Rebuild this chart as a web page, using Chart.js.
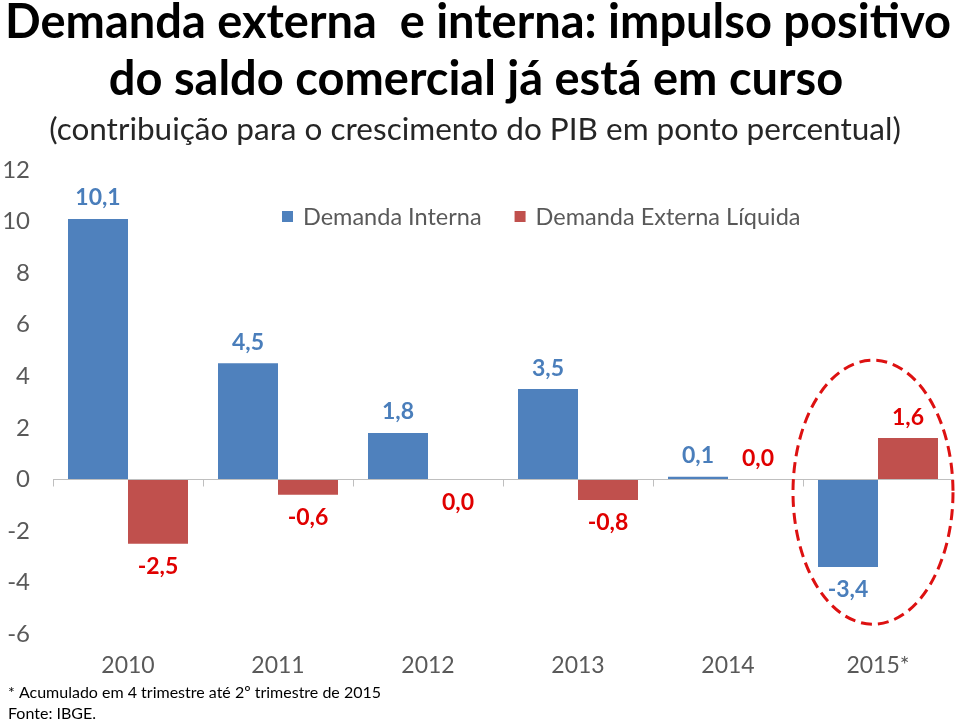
<!DOCTYPE html>
<html>
<head>
<meta charset="utf-8">
<script src="https://cdn.jsdelivr.net/npm/chart.js@4.4.0/dist/chart.umd.min.js"></script>
<style>
  html, body { margin: 0; padding: 0; background: #fff; }
  #wrap { width: 959px; height: 722px; }
</style>
</head>
<body>
<div id="wrap"><canvas id="chart" width="959" height="722"></canvas></div>
<script>
// ---- data ----
const YEARS = ['2010', '2011', '2012', '2013', '2014', '2015*'];
const DEMANDA_INTERNA = [10.1, 4.5, 1.8, 3.5, 0.1, -3.4];
const DEMANDA_EXTERNA = [-2.5, -0.6, 0.0, -0.8, 0.0, 1.6];
const Y_MIN = -6, Y_MAX = 12, Y_STEP = 2;

const TITLE = ['Demanda externa  e interna: impulso positivo', 'do saldo comercial já está em curso'];
const SUBTITLE = '(contribuição para o crescimento do PIB em ponto percentual)';
const NOTES = ['* Acumulado em 4 trimestre até 2º trimestre de 2015', 'Fonte: IBGE.'];

const BLUE = '#4f81bd', RED = '#c0504d';
const BLUE_TXT = '#4a7ebb', RED_TXT = '#e00000';
const GRAY = '#595959';
const FONT = 'Lato, "Open Sans", sans-serif';

// zero-valued labels: which categories put the label below the axis
const ZERO_BELOW = [2];

const fmt = v => v.toFixed(1).replace('.', ',');

const decor = {
  id: 'decor',
  afterDraw(chart) {
    const { ctx, chartArea: area, scales: { x, y } } = chart;
    ctx.save();

    // titles
    ctx.fillStyle = '#000';
    ctx.textAlign = 'center';
    ctx.textBaseline = 'alphabetic';
    ctx.font = 'bold 47px ' + FONT;
    ctx.fillText(TITLE[0], 478, 38);
    ctx.fillText(TITLE[1], 476, 95);
    ctx.font = '31.5px ' + FONT;
    ctx.fillStyle = '#262626';
    ctx.fillText(SUBTITLE, 475, 140);

    // legend
    ctx.font = '23.5px ' + FONT;
    ctx.textAlign = 'left';
    ctx.textBaseline = 'middle';
    let lx = 282;
    const ly = 217;
    [[BLUE, 'Demanda Interna'], [RED, 'Demanda Externa Líquida']].forEach(([c, t]) => {
      ctx.fillStyle = c;
      ctx.fillRect(lx, ly - 6, 11, 11);
      ctx.fillStyle = GRAY;
      ctx.fillText(t, lx + 21, ly);
      lx += 21 + ctx.measureText(t).width + 33;
    });

    // zero axis line with category ticks
    const y0 = Math.round(y.getPixelForValue(0)) + 0.5;
    ctx.strokeStyle = '#bfbfbf';
    ctx.lineWidth = 1;
    ctx.beginPath();
    ctx.moveTo(area.left, y0);
    ctx.lineTo(area.right, y0);
    const step = (area.right - area.left) / YEARS.length;
    for (let i = 0; i <= YEARS.length; i++) {
      const tx = Math.round(area.left + i * step) + 0.5;
      ctx.moveTo(tx, y0);
      ctx.lineTo(tx, y0 + 7);
    }
    ctx.stroke();

    // value labels
    ctx.font = 'bold 23px ' + FONT;
    ctx.textAlign = 'center';
    ctx.textBaseline = 'middle';
    chart.data.datasets.forEach((ds, di) => {
      const meta = chart.getDatasetMeta(di);
      ctx.fillStyle = di === 0 ? BLUE_TXT : RED_TXT;
      meta.data.forEach((bar, i) => {
        const v = ds.data[i];
        const up = v > 0 || (v === 0 && !ZERO_BELOW.includes(i));
        const ty = up ? bar.y - 21 : bar.y + 23;
        ctx.fillText(fmt(v), bar.x, ty);
      });
    });

    // highlight ellipse around 2015
    ctx.strokeStyle = '#dd1111';
    ctx.lineWidth = 3;
    ctx.setLineDash([11, 6]);
    ctx.beginPath();
    ctx.ellipse(x.getPixelForValue(5) - 5, y.getPixelForValue(-0.5), 80, 132, 0, 0, Math.PI * 2);
    ctx.stroke();
    ctx.setLineDash([]);

    // footnotes
    ctx.fillStyle = '#000';
    ctx.font = '16px ' + FONT;
    ctx.textAlign = 'left';
    ctx.textBaseline = 'alphabetic';
    ctx.fillText(NOTES[0], 8, 698);
    ctx.fillText(NOTES[1], 8, 719);

    ctx.restore();
  }
};

new Chart(document.getElementById('chart').getContext('2d'), {
  type: 'bar',
  data: {
    labels: YEARS,
    datasets: [
      { label: 'Demanda Interna', data: DEMANDA_INTERNA, backgroundColor: BLUE },
      { label: 'Demanda Externa Líquida', data: DEMANDA_EXTERNA, backgroundColor: RED },
    ],
  },
  options: {
    responsive: false,
    animation: false,
    devicePixelRatio: 1,
    categoryPercentage: 0.8,
    barPercentage: 1.0,
    layout: { padding: { top: 170, right: 6, bottom: 38, left: 0 } },
    plugins: {
      legend: { display: false },
      tooltip: { enabled: false },
    },
    scales: {
      x: {
        grid: { display: false, drawTicks: false },
        border: { display: false },
        ticks: { color: GRAY, font: { family: FONT, size: 23 }, padding: 18 },
        afterFit: s => { s.height = 50; },
      },
      y: {
        min: Y_MIN, max: Y_MAX,
        grid: { display: false, drawTicks: false },
        border: { display: false },
        ticks: { stepSize: Y_STEP, color: GRAY, font: { family: FONT, size: 24 }, padding: 23 },
        afterFit: s => { s.width = 53; },
      },
    },
  },
  plugins: [decor],
});
</script>
</body>
</html>
